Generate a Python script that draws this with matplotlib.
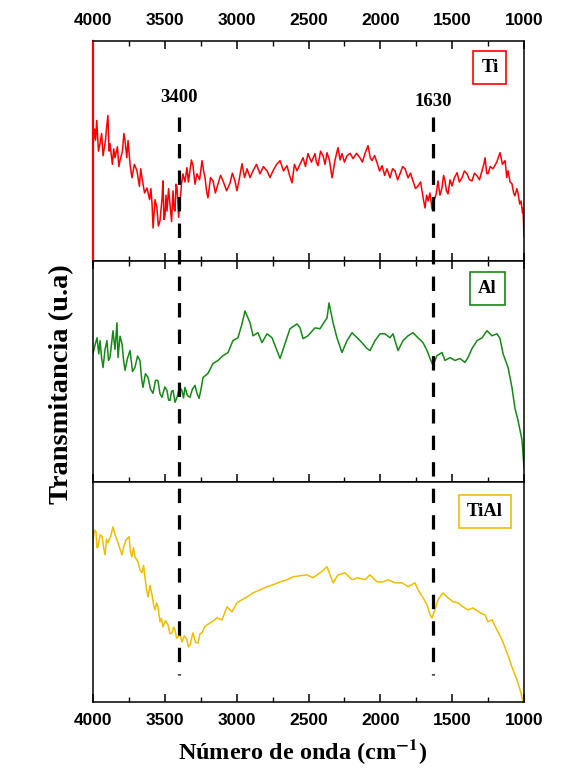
import numpy as np
import matplotlib
matplotlib.use('Agg')
import matplotlib.pyplot as plt
import matplotlib.transforms as mtransforms
from matplotlib.lines import Line2D
from matplotlib.ticker import MultipleLocator

plt.rcParams['mathtext.fontset'] = 'stix'

# espectros FTIR (transmitancia en unidades arbitrarias, 0-100 por panel)
wn_ti = [4000, 3990, 3982, 3974, 3962, 3951, 3940, 3930, 3913, 3905, 3896, 3889, 3882, 3865,
         3856, 3847, 3830, 3820, 3812, 3795, 3785, 3777, 3765, 3756, 3742, 3729, 3712, 3694,
         3677, 3668, 3659, 3641, 3624, 3606, 3597, 3589, 3582, 3568, 3555, 3545, 3534, 3520,
         3513, 3506, 3499, 3492, 3485, 3474, 3464, 3453, 3443, 3436, 3429, 3422, 3415, 3404,
         3394, 3384, 3374, 3360, 3346, 3336, 3325, 3315, 3304, 3290, 3276, 3258, 3241, 3230,
         3220, 3210, 3200, 3182, 3165, 3148, 3130, 3112, 3095, 3070, 3046, 3030, 3012, 2998,
         2980, 2963, 2945, 2928, 2907, 2886, 2862, 2838, 2814, 2789, 2768, 2747, 2722, 2698,
         2674, 2650, 2632, 2615, 2598, 2580, 2560, 2538, 2521, 2504, 2480, 2455, 2445, 2434,
         2416, 2399, 2385, 2371, 2355, 2336, 2316, 2295, 2280, 2267, 2250, 2232, 2210, 2190,
         2165, 2142, 2125, 2107, 2086, 2070, 2058, 2040, 2023, 2005, 1988, 1970, 1954, 1933,
         1915, 1898, 1880, 1863, 1845, 1828, 1807, 1790, 1773, 1755, 1738, 1720, 1710, 1700,
         1689, 1678, 1668, 1655, 1640, 1630, 1620, 1610, 1599, 1585, 1571, 1560, 1550, 1540,
         1529, 1515, 1501, 1484, 1466, 1450, 1432, 1415, 1397, 1380, 1362, 1345, 1327, 1310,
         1292, 1280, 1271, 1260, 1251, 1235, 1216, 1190, 1167, 1150, 1132, 1120, 1111, 1097,
         1084, 1072, 1063, 1050, 1042, 1030, 1021, 1010, 1007, 1000]
t_ti = [52.1, 60.0, 55.0, 63.9, 50.0, 53.4, 58.0, 47.9, 55.0, 61.0, 66.2, 50.0, 53.4, 44.0,
        51.0, 47.0, 52.0, 43.0, 45.7, 50.0, 58.0, 54.8, 47.0, 54.8, 44.0, 37.9, 44.0, 41.1,
        34.0, 42.0, 37.9, 31.0, 33.3, 28.0, 33.0, 26.0, 15.1, 28.0, 24.2, 16.0, 18.3, 28.0,
        36.5, 19.0, 20.5, 30.0, 22.8, 33.0, 26.0, 18.0, 32.0, 24.0, 22.8, 35.0, 33.3, 20.0,
        27.4, 35.0, 39.7, 36.0, 42.5, 36.0, 41.1, 46.0, 43.4, 35.0, 39.7, 37.0, 45.7, 41.0,
        37.9, 32.0, 28.8, 38.0, 36.5, 31.0, 35.2, 39.0, 36.5, 32.0, 35.6, 40.0, 36.5, 32.0,
        38.0, 44.3, 38.0, 42.0, 38.0, 41.1, 44.0, 39.7, 43.0, 41.1, 38.0, 41.1, 44.0, 45.7,
        41.0, 43.4, 39.0, 35.6, 44.0, 41.1, 44.0, 47.0, 43.0, 48.9, 45.0, 48.9, 45.0, 43.4,
        50.0, 47.9, 44.0, 49.3, 46.0, 37.9, 45.7, 51.6, 46.0, 48.9, 45.0, 47.9, 49.0, 46.6,
        49.0, 47.0, 45.0, 48.9, 52.5, 47.0, 45.7, 48.0, 44.7, 41.0, 43.4, 39.0, 42.0, 37.9,
        42.0, 41.1, 37.0, 39.7, 43.0, 42.0, 37.9, 40.0, 36.5, 33.0, 34.2, 36.0, 32.0, 28.0,
        24.2, 30.0, 27.4, 31.0, 23.7, 26.0, 28.8, 31.0, 36.5, 30.0, 33.3, 39.0, 36.5, 32.0,
        30.6, 37.0, 34.2, 38.0, 40.2, 36.0, 37.9, 41.0, 39.7, 37.0, 36.5, 40.0, 38.8, 37.0,
        41.1, 44.0, 47.0, 40.0, 39.7, 43.0, 42.0, 45.0, 49.3, 44.0, 45.7, 38.0, 41.1, 36.0,
        35.2, 31.0, 29.7, 33.0, 31.1, 26.0, 27.4, 22.0, 24.2, 11.4]

wn_al = [4000, 3986, 3972, 3960, 3951, 3940, 3930, 3916, 3903, 3892, 3882, 3870, 3861, 3847,
         3833, 3826, 3812, 3798, 3787, 3777, 3760, 3742, 3725, 3708, 3690, 3673, 3662, 3652,
         3635, 3617, 3600, 3582, 3565, 3548, 3534, 3520, 3500, 3485, 3474, 3464, 3453, 3443,
         3429, 3415, 3398, 3381, 3370, 3360, 3342, 3325, 3308, 3290, 3276, 3262, 3248, 3234,
         3200, 3165, 3130, 3095, 3060, 3026, 2991, 2963, 2942, 2907, 2886, 2852, 2824,
         2789, 2754, 2719, 2698, 2664, 2629, 2580, 2559, 2538, 2504, 2455, 2420, 2399, 2371,
         2357, 2329, 2302, 2267, 2232, 2197, 2162, 2128, 2093, 2072, 2037, 2002, 1968, 1933,
         1912, 1877, 1842, 1807, 1773, 1738, 1703, 1675, 1654, 1633, 1606, 1571, 1550, 1515,
         1480, 1446, 1411, 1390, 1362, 1327, 1292, 1258, 1223, 1188, 1167, 1146, 1111, 1084,
         1063, 1042, 1014, 1000]
t_al = [58.1, 62.0, 65.3, 58.0, 64.0, 56.0, 51.8, 60.0, 64.0, 55.0, 56.3, 63.0, 68.5, 60.0,
        72.1, 56.3, 66.0, 62.6, 55.0, 50.5, 56.0, 59.5, 50.0, 51.8, 57.0, 55.0, 47.0, 42.8,
        49.0, 47.3, 42.0, 40.1, 46.0, 45.9, 40.0, 38.3, 43.0, 41.4, 37.0, 36.9, 41.0, 41.4,
        36.0, 38.3, 43.0, 41.4, 38.0, 42.8, 39.0, 38.3, 42.0, 43.7, 40.0, 37.8, 42.0, 47.3,
        49.1, 53.6, 55.0, 57.2, 58.6, 64.0, 65.3, 71.6, 77.5, 72.1, 66.2, 67.6, 63.1,
        67.1, 65.3, 59.5, 55.9, 62.6, 69.4, 71.6, 69.8, 64.9, 66.2, 69.8, 69.4, 71.6, 74.3,
        81.1, 72.1, 65.3, 58.6, 64.0, 67.6, 65.3, 63.1, 60.4, 59.5, 64.0, 67.1, 67.1, 65.3,
        67.1, 59.5, 64.0, 66.2, 67.6, 65.3, 63.1, 59.5, 55.9, 52.7, 57.2, 58.6, 55.0, 56.3,
        55.0, 55.9, 54.1, 56.3, 60.4, 64.0, 65.3, 68.5, 66.2, 67.1, 64.9, 58.1, 51.8, 42.8,
        33.3, 27.9, 18.9, 6.3]

wn_tial = [4000, 3990, 3979, 3972, 3965, 3950, 3937, 3926, 3916, 3906, 3896, 3878, 3861, 3847,
           3833, 3815, 3798, 3784, 3770, 3749, 3739, 3729, 3718, 3708, 3687, 3673, 3659, 3648,
           3638, 3627, 3617, 3603, 3589, 3578, 3568, 3558, 3548, 3534, 3524, 3513, 3495, 3478,
           3464, 3450, 3440, 3429, 3418, 3408, 3395, 3381, 3364, 3346, 3336, 3325, 3304, 3286,
           3269, 3255, 3241, 3224, 3207, 3172, 3137, 3102, 3067, 3033, 2998, 2963, 2928, 2886,
           2838, 2789, 2747, 2698, 2650, 2608, 2559, 2511, 2469, 2420, 2371, 2329, 2295, 2246,
           2197, 2156, 2107, 2072, 2023, 1981, 1947, 1898, 1849, 1807, 1759, 1738, 1703, 1675,
           1654, 1640, 1620, 1599, 1564, 1529, 1494, 1460, 1425, 1390, 1355, 1306, 1271, 1251,
           1223, 1188, 1153, 1118, 1084, 1049, 1021, 1007]
t_tial = [73.6, 78.0, 77.3, 70.0, 70.5, 76.0, 75.0, 70.0, 66.8, 74.0, 72.3, 75.0, 79.5, 76.0,
          73.6, 70.0, 66.8, 71.0, 73.6, 75.0, 68.0, 65.9, 70.0, 65.9, 63.6, 60.0, 58.6, 62.0,
          56.4, 51.0, 47.7, 53.0, 48.6, 44.0, 41.8, 45.0, 43.2, 36.4, 38.0, 34.1, 37.0, 35.0,
          31.0, 31.4, 34.0, 32.7, 29.0, 29.5, 31.0, 27.3, 30.0, 28.2, 25.0, 25.9, 31.4, 27.0,
          26.8, 31.0, 31.4, 34.0, 35.0, 36.4, 38.2, 37.3, 43.2, 40.9, 45.0, 46.4, 47.7, 49.5,
          50.9, 52.3, 53.2, 54.5, 55.5, 56.8, 57.3, 57.7, 56.4, 58.6, 61.4, 54.1, 57.7, 58.6,
          55.5, 56.4, 55.5, 57.7, 54.5, 54.5, 55.5, 54.1, 54.1, 52.3, 54.1, 50.9, 47.3, 44.1,
          39.5, 38.2, 41.8, 46.4, 49.5, 47.3, 45.5, 45.0, 43.2, 41.8, 42.7, 40.5, 39.5, 36.4,
          37.3, 32.7, 28.2, 22.3, 15.9, 10.0, 4.1, 0.0]

muestras = ['Ti', 'Al', 'TiAl']
colores = ['#ff0000', '#138a13', '#f2bd00']
bandas = [3400, 1630]

serif = ['Liberation Serif', 'DejaVu Serif']
sans = ['Liberation Sans', 'DejaVu Sans']

fig = plt.figure(figsize=(5.73, 7.70), dpi=100)
gs = fig.add_gridspec(3, 1, left=0.1623, right=0.9145, bottom=0.0883, top=0.9468, hspace=0)
axs = [fig.add_subplot(gs[i]) for i in range(3)]

datos = [(wn_ti, t_ti), (wn_al, t_al), (wn_tial, t_tial)]
caja_pos = [(0.921, 0.881), (0.915, 0.878), (0.909, 0.864)]
pads = [9, 5, 8]

for i, ax in enumerate(axs):
    x, y = datos[i]
    ax.plot(x, y, color=colores[i], lw=1.1)
    ax.set_xlim(4000, 1000)
    ax.set_ylim(0, 100)
    ax.set_yticks([])
    ax.xaxis.set_major_locator(MultipleLocator(500))
    ax.xaxis.set_minor_locator(MultipleLocator(250))
    ax.tick_params(axis='x', which='major', direction='in', length=6, width=1.1,
                   top=(i < 2), bottom=True, labelbottom=(i == 2), labeltop=(i == 0),
                   labelsize=12.5, pad=pads[i])
    ax.tick_params(axis='x', which='minor', direction='in', length=3.5, width=1.0,
                   top=(i < 2), bottom=True)
    for lab in ax.get_xticklabels():
        lab.set_fontfamily(sans)
        lab.set_fontweight('bold')
    for s in ax.spines.values():
        s.set_linewidth(1.1)
    ax.text(caja_pos[i][0], caja_pos[i][1], muestras[i], transform=ax.transAxes,
            ha='center', va='center', fontsize=13.5, fontweight='bold', family=serif,
            bbox=dict(boxstyle='square,pad=0.42', fc='white', ec=colores[i], lw=1.2))

axs[0].spines['left'].set_color(colores[0])
axs[0].spines['left'].set_linewidth(1.6)

# líneas de referencia que cruzan los tres paneles
trans = mtransforms.blended_transform_factory(axs[0].transData, fig.transFigure)
for b in bandas:
    ln = Line2D([b, b], [1 - 117 / 770, 1 - 675 / 770], transform=trans, color='black',
                lw=2.3, ls=(0, (4.5, 3.8)), zorder=5)
    fig.add_artist(ln)
tr_txt = mtransforms.blended_transform_factory(axs[0].transData, axs[0].transAxes)
axs[0].text(3400, 0.745, '3400', transform=tr_txt, ha='center', va='center', fontsize=13.5,
            fontweight='bold', family=serif)
axs[0].text(1630, 0.726, '1630', transform=tr_txt, ha='center', va='center', fontsize=13.5,
            fontweight='bold', family=serif)

fig.text(0.528, 1 - 752 / 770, r'Número de onda (cm$^{\mathbf{-1}}$)', ha='center',
         va='center', fontsize=17.5, fontweight='bold', family=serif)
fig.text(0.108, 1 - 384 / 770, 'Transmitancia (u.a)', ha='center', va='center', rotation=90,
         fontsize=20.5, fontweight='bold', family=serif)

fig.savefig('out.png', dpi=100)
